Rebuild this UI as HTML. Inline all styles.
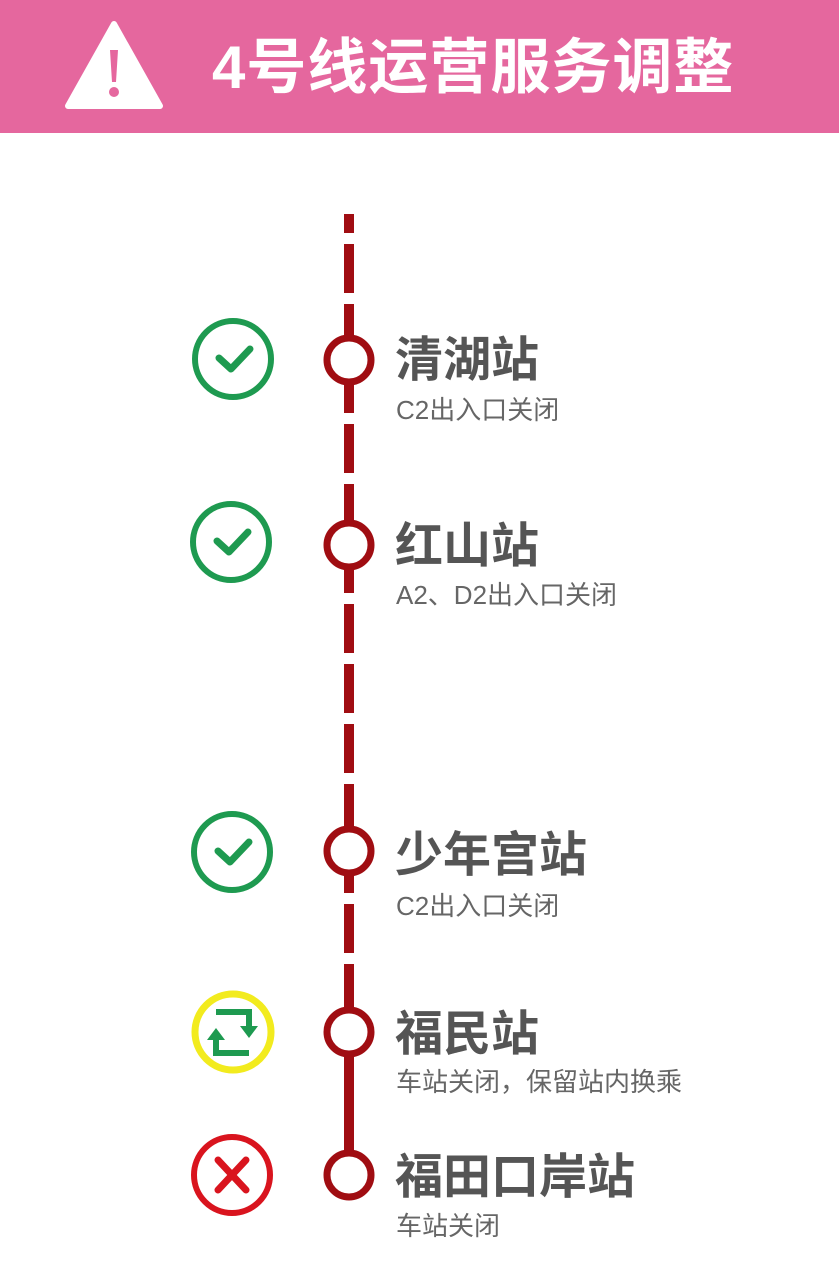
<!DOCTYPE html>
<html><head><meta charset="utf-8"><style>
body{margin:0;width:839px;height:1277px;background:#fff;position:relative;overflow:hidden;font-family:"Liberation Sans","Noto Sans CJK SC",sans-serif}
.hd{position:absolute;left:0;top:0;width:839px;height:133px;background:#E5679E}
.t{position:absolute;left:212px;top:28px;font-size:60px;font-weight:bold;color:#fff;line-height:80px;letter-spacing:1px}
.n{position:absolute;left:395px;font-size:48px;font-weight:bold;color:#555;line-height:52px}
.s{position:absolute;left:396px;font-size:26px;color:#666;line-height:30px}
</style></head><body>
<div class="hd"></div>
<svg width="839" height="1277" style="position:absolute;left:0;top:0">
<polygon points="114,24 160,106 68,106" fill="#fff" stroke="#fff" stroke-width="6" stroke-linejoin="round"/>
<path d="M110,50 L118,50 L116,82 L112,82Z" fill="#E5679E"/>
<circle cx="114" cy="92" r="5" fill="#E5679E"/>
<line x1="349" y1="214" x2="349" y2="1010" stroke="#A00D12" stroke-width="10" stroke-dasharray="19 11 49 11 49 11 49 11 49 11 49 11 49 11 49 11 49 11 49 11 49 11 49 11 49 11 49 11 49 11 49 11"/>
<line x1="349" y1="1005" x2="349" y2="1175" stroke="#A00D12" stroke-width="10"/>
<g fill="#fff" stroke="#A00D12" stroke-width="7">
<circle cx="349" cy="360" r="22"/><circle cx="349" cy="545" r="22"/><circle cx="349" cy="851" r="22"/><circle cx="349" cy="1032" r="22"/><circle cx="349" cy="1175" r="22"/>
</g>
<g fill="none" stroke="#1E9A50" stroke-width="6">
<circle cx="233" cy="359" r="38"/><circle cx="231" cy="542" r="38"/><circle cx="232" cy="852" r="38"/>
</g>
<g fill="none" stroke="#1E9A50" stroke-width="7" stroke-linecap="round" stroke-linejoin="round">
<path d="M219,358 L231,369 L250,349"/><path d="M217,541 L229,552 L248,532"/><path d="M218,851 L230,862 L249,842"/>
</g>
<circle cx="233" cy="1032" r="38" fill="#fff" stroke="#F2EB1E" stroke-width="7"/>
<g fill="none" stroke="#1E9A50" stroke-width="6">
<path d="M216,1012 L249,1012 L249,1026"/><path d="M249,1053 L216,1053 L216,1040"/>
</g>
<polygon points="240,1026 258,1026 249,1038" fill="#1E9A50"/>
<polygon points="207,1040 225,1040 216,1028" fill="#1E9A50"/>
<circle cx="232" cy="1175" r="38" fill="none" stroke="#D9141E" stroke-width="6"/>
<g stroke="#D9141E" stroke-width="7" stroke-linecap="round"><line x1="218" y1="1160" x2="246" y2="1190"/><line x1="246" y1="1160" x2="218" y2="1190"/></g>
</svg>
<div class="t">4号线运营服务调整</div>
<div class="n" style="top:335px">清湖站</div><div class="s" style="top:395px">C2出入口关闭</div>
<div class="n" style="top:521px">红山站</div><div class="s" style="top:580px">A2、D2出入口关闭</div>
<div class="n" style="top:830px">少年宫站</div><div class="s" style="top:891px">C2出入口关闭</div>
<div class="n" style="top:1009px">福民站</div><div class="s" style="top:1067px">车站关闭，保留站内换乘</div>
<div class="n" style="top:1152px">福田口岸站</div><div class="s" style="top:1211px">车站关闭</div>
</body></html>
